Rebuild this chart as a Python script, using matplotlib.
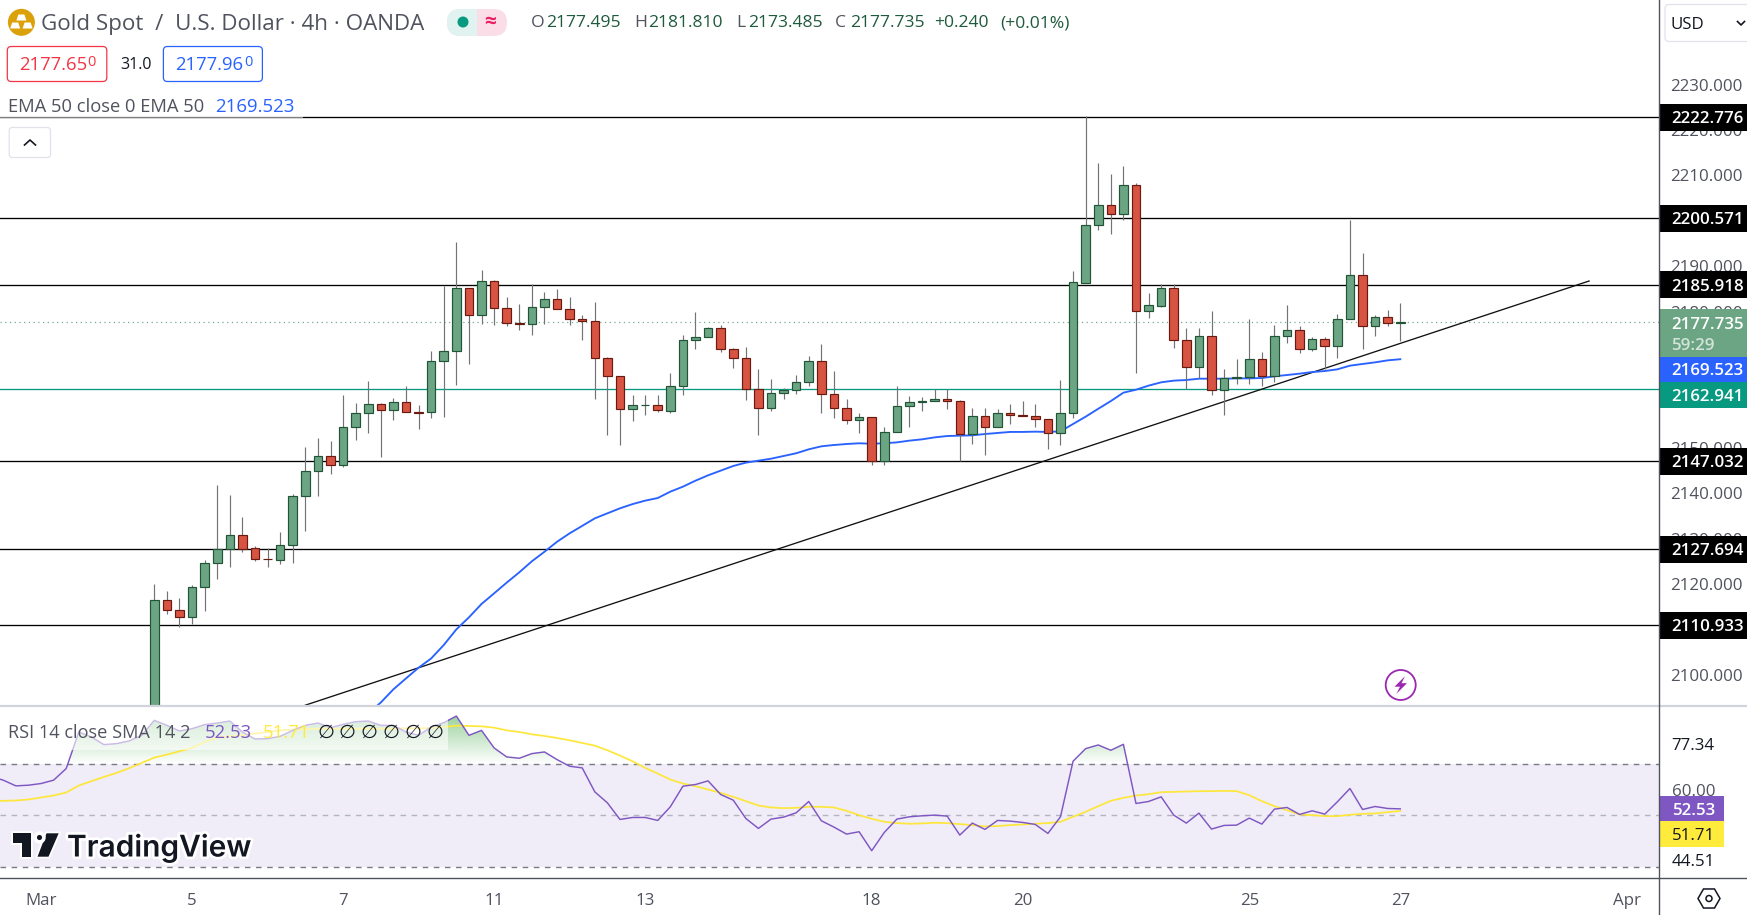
import numpy as np
import matplotlib
matplotlib.use('Agg')
import matplotlib.pyplot as plt
import matplotlib.patheffects as pe
from matplotlib.patches import Rectangle, FancyBboxPatch, Circle, Polygon, RegularPolygon
from matplotlib.path import Path

plt.rcParams['font.family'] = ['Open Sans', 'DejaVu Sans']

W, H = 1747, 915

# 4h candles
opens = [2090.0, 2116.4, 2114.2, 2112.65, 2119.26, 2124.55, 2127.63, 2130.7, 2127.85, 2125.43,
         2125.2, 2128.5, 2139.3, 2144.8, 2148.1, 2146.14, 2154.5, 2157.6, 2159.6, 2158.26,
         2160.0, 2157.8, 2157.8, 2169.05, 2171.26, 2185.14, 2179.2, 2186.7, 2180.7, 2177.4,
         2177.2, 2180.95, 2182.7, 2180.5, 2178.3, 2177.87, 2169.7, 2165.75, 2158.5, 2159.36,
         2159.36, 2158.2, 2163.55, 2173.7, 2174.34, 2176.3, 2171.7, 2169.7, 2162.9, 2158.7,
         2162.0, 2162.67, 2164.4, 2169.05, 2161.8, 2158.7, 2156.06, 2156.7, 2147.17, 2153.4,
         2159.14, 2160.0, 2160.24, 2160.68, 2160.24, 2152.97, 2156.94, 2154.5, 2157.6, 2157.16,
         2156.94, 2156.28, 2153.2, 2157.6, 2186.4, 2199.0, 2203.4, 2201.6, 2207.83, 2180.07,
         2181.3, 2185.14, 2173.7, 2167.9, 2174.56, 2162.66, 2165.3, 2165.5, 2169.5, 2165.75,
         2174.56, 2175.9, 2171.7, 2173.9, 2172.36, 2178.3, 2188.0, 2176.76, 2178.75, 2177.495]
closes = [2116.4, 2114.2, 2112.65, 2119.26, 2124.55, 2127.63, 2130.7, 2127.63, 2125.43, 2125.4,
          2128.5, 2139.3, 2144.8, 2148.1, 2146.14, 2154.5, 2157.6, 2159.6, 2158.26, 2160.0,
          2157.8, 2157.75, 2169.05, 2171.26, 2185.14, 2179.2, 2186.7, 2180.7, 2177.4, 2177.2,
          2180.95, 2182.7, 2180.5, 2178.3, 2177.87, 2169.7, 2165.75, 2158.5, 2159.36, 2159.4,
          2158.26, 2163.55, 2173.7, 2174.34, 2176.3, 2171.7, 2169.7, 2162.9, 2158.7, 2162.0,
          2162.67, 2164.4, 2169.05, 2161.8, 2158.7, 2156.06, 2156.7, 2147.17, 2153.4, 2159.14,
          2160.0, 2160.24, 2160.68, 2160.24, 2152.97, 2156.94, 2154.5, 2157.6, 2157.16, 2157.0,
          2156.28, 2153.2, 2157.6, 2186.46, 2199.0, 2203.4, 2201.6, 2207.83, 2180.07, 2181.4,
          2185.14, 2173.7, 2167.9, 2174.56, 2162.66, 2165.3, 2165.5, 2169.5, 2165.75, 2174.56,
          2175.9, 2171.7, 2173.9, 2172.36, 2178.3, 2188.0, 2176.76, 2178.75, 2177.43, 2177.735]
highs = [2120.0, 2118.45, 2116.9, 2119.8, 2125.3, 2141.8, 2139.6, 2134.76, 2128.4, 2127.85,
         2131.45, 2139.75, 2150.2, 2152.16, 2151.5, 2161.6, 2159.9, 2164.7, 2159.9, 2161.0,
         2163.6, 2159.4, 2171.3, 2185.65, 2195.35, 2185.14, 2189.2, 2187.0, 2183.2, 2181.7,
         2186.0, 2184.3, 2185.0, 2183.2, 2179.26, 2182.1, 2170.1, 2165.75, 2161.6, 2161.6,
         2161.6, 2166.5, 2174.86, 2179.9, 2176.6, 2177.06, 2172.0, 2172.2, 2167.37, 2165.16,
         2163.2, 2166.0, 2170.2, 2172.87, 2166.9, 2160.76, 2157.67, 2156.7, 2154.6, 2163.6,
         2161.4, 2161.2, 2162.9, 2162.9, 2160.46, 2158.77, 2158.77, 2158.55, 2159.65, 2160.3,
         2159.65, 2156.28, 2164.94, 2188.96, 2223.1, 2212.75, 2210.3, 2212.1, 2208.27, 2184.1,
         2186.1, 2186.1, 2176.3, 2176.3, 2180.14, 2167.36, 2169.57, 2178.4, 2171.1, 2177.06,
         2181.46, 2176.84, 2174.34, 2174.34, 2179.5, 2200.2, 2192.9, 2179.26, 2180.36, 2181.81]
lows = [2088.0, 2113.46, 2110.6, 2111.18, 2114.05, 2121.1, 2123.8, 2127.1, 2125.06, 2123.8,
        2124.5, 2124.7, 2131.67, 2139.4, 2144.2, 2145.85, 2151.7, 2153.3, 2148.0, 2156.1,
        2157.8, 2154.15, 2156.6, 2156.86, 2163.84, 2168.47, 2177.3, 2177.06, 2176.9, 2176.0,
        2174.86, 2177.3, 2180.5, 2177.06, 2173.75, 2160.76, 2152.8, 2150.6, 2155.9, 2157.2,
        2157.9, 2157.67, 2161.6, 2171.77, 2174.34, 2171.1, 2167.6, 2160.5, 2152.8, 2158.1,
        2160.76, 2161.86, 2163.6, 2157.67, 2156.6, 2155.25, 2153.27, 2146.2, 2146.2, 2153.4,
        2154.6, 2158.1, 2160.24, 2158.55, 2147.0, 2150.84, 2148.4, 2154.5, 2155.25, 2157.0,
        2154.6, 2149.74, 2150.6, 2156.6, 2186.4, 2198.0, 2197.1, 2200.2, 2166.5, 2178.6,
        2181.0, 2172.0, 2162.9, 2165.3, 2161.64, 2157.2, 2164.06, 2164.06, 2163.55, 2164.5,
        2173.1, 2170.9, 2171.33, 2167.44, 2169.8, 2178.3, 2171.77, 2174.63, 2176.84, 2173.485]

# EMA 50, starts just under the pane
ema_first_bar = 17
ema = [2091.5, 2093.9, 2096.8, 2099.2, 2101.56, 2103.6, 2106.56, 2110.0, 2112.65, 2115.6,
       2117.94, 2120.3, 2122.57, 2125.0, 2127.1, 2129.3, 2131.16, 2132.8, 2134.46, 2135.57,
       2136.67, 2137.6, 2138.36, 2138.94, 2140.34, 2141.44, 2142.76, 2143.94, 2144.97, 2146.0,
       2146.73, 2147.17, 2147.6, 2148.2, 2148.8, 2149.67, 2150.33, 2150.62, 2150.84, 2151.0,
       2150.9, 2151.0, 2151.2, 2151.58, 2151.87, 2152.3, 2152.6, 2152.68, 2152.75, 2153.04,
       2153.27, 2153.5, 2153.5, 2153.56, 2153.5, 2153.63, 2155.25, 2156.86, 2158.6, 2160.3,
       2162.15, 2162.8, 2163.7, 2164.43, 2164.8, 2164.94, 2165.23, 2165.23, 2165.23, 2165.3,
       2165.3, 2165.38, 2165.75, 2166.04, 2166.34, 2166.7, 2166.92, 2167.29, 2168.1, 2168.47,
       2168.83, 2169.27, 2169.523]

# horizontal levels drawn on the chart
black_levels = [2222.776, 2200.571, 2185.918, 2147.032, 2127.694, 2110.933]
green_level = 2162.941
last_price = 2177.735
ema_last = 2169.523
trend_bars = [12, 114]
trend_prices = [2093.3, 2186.75]

# 2110, 2170 and 2200 sit fully behind the value labels
price_ticks = [2100, 2120, 2130, 2140, 2150, 2160, 2180, 2190, 2210, 2220, 2230]

# RSI pane, first value is bar -13 (candles there sit below the price pane)
rsi_first_bar = -13
rsi = [65.0, 63.6, 61.4, 61.66, 62.3, 63.6, 68.07, 82.17, 80.25, 77.3,
       77.68, 78.71, 80.89, 86.66, 84.73, 82.56, 83.45, 85.0, 85.63, 86.4,
       82.17, 79.48, 79.6, 80.5, 82.8, 84.73, 85.63, 83.84, 85.12, 86.15,
       86.4, 84.73, 84.73, 82.17, 80.89, 84.09, 85.76, 88.32, 80.89, 82.8,
       76.02, 72.56, 72.04, 73.84, 74.48, 71.53, 68.97, 68.33, 59.09, 54.86,
       48.45, 49.22, 49.22, 48.07, 53.33, 61.27, 61.92, 63.33, 58.07, 55.89,
       48.84, 44.99, 48.58, 49.35, 51.02, 55.38, 47.94, 45.51, 42.81, 43.71,
       36.4, 43.45, 48.58, 49.48, 49.86, 50.12, 49.74, 42.43, 47.04, 44.61,
       48.07, 47.81, 47.3, 46.53, 43.07, 49.48, 70.89, 75.76, 77.17, 75.12,
       77.43, 54.61, 55.38, 57.17, 50.12, 47.04, 50.89, 44.74, 46.15, 46.27,
       48.97, 46.66, 52.43, 53.07, 50.38, 51.79, 50.51, 55.25, 60.38, 52.3,
       53.45, 52.68, 52.53]
rsi_sma = [55.6, 55.63, 55.76, 56.15, 56.92, 57.68, 58.84, 61.53, 63.2, 64.86,
           66.4, 68.2, 70.25, 72.3, 73.45, 74.74, 76.02, 78.32, 79.99, 80.5,
           81.02, 81.53, 82.17, 82.8, 83.07, 83.32, 83.45, 83.45, 83.45, 83.45,
           83.45, 83.45, 83.45, 83.58, 83.58, 83.71, 84.09, 84.61, 84.48, 84.35,
           83.84, 82.8, 82.17, 81.27, 80.63, 79.86, 78.97, 77.94, 76.91, 75.12,
           73.07, 70.89, 68.33, 66.15, 63.84, 62.3, 61.27, 59.99, 58.71, 57.17,
           55.51, 53.84, 53.07, 52.81, 52.94, 53.33, 53.33, 53.07, 51.79, 50.12,
           48.71, 47.56, 47.04, 46.79, 46.92, 47.17, 47.04, 46.66, 46.27, 45.76,
           45.89, 46.27, 46.53, 46.79, 47.04, 47.56, 49.48, 51.4, 53.58, 55.63,
           56.79, 57.68, 58.2, 58.97, 59.09, 59.22, 59.35, 59.35, 59.48, 59.35,
           57.81, 55.51, 53.58, 52.04, 50.38, 50.12, 49.74, 49.74, 50.25, 50.63,
           50.76, 51.27, 51.71]

date_ticks = [-9, 3, 15, 27, 39, 57, 69, 87, 99, 117]
date_labels = ['Mar', '5', '7', '11', '13', '18', '20', '25', '27', 'Apr']

# colours
GREEN_BODY = '#6BA583'
GREEN_EDGE = '#225437'
RED_BODY = '#D75442'
RED_EDGE = '#6B1A12'
WICK = '#737375'
BLUE = '#2962FF'
TEAL = '#089981'
PURPLE = '#7E57C2'
YELLOW = '#FFEB3B'
TXT = '#50535E'

fig = plt.figure(figsize=(W / 100, H / 100), dpi=100, facecolor='white')
ax = fig.add_axes([0, (H - 705) / H, 1659.3 / W, 705 / H])
ax2 = fig.add_axes([0, (H - 877.3) / H, 1659.3 / W, (877.3 - 706.5) / H])
# overlay in pixels for the tv chrome (labels, buttons, logo)
ui = fig.add_axes([0, 0, 1, 1], zorder=10)
ui.set_xlim(0, W)
ui.set_ylim(H, 0)
ui.axis('off')
ui.patch.set_alpha(0)

xlim = (-12.26, 119.58)

# ---- price pane
bars = np.arange(len(opens))
opens_a, closes_a = np.array(opens), np.array(closes)
up = closes_a >= opens_a
ax.vlines(bars, lows, highs, color=WICK, lw=0.85, zorder=3)
ax.bar(bars, closes_a - opens_a, bottom=opens_a, width=0.68,
       color=[GREEN_BODY if u else RED_BODY for u in up],
       edgecolor=[GREEN_EDGE if u else RED_EDGE for u in up], linewidth=0.85, zorder=4)
for lev in black_levels:
    ax.axhline(lev, color='black', lw=0.95, zorder=1)
ax.axhline(green_level, color=TEAL, lw=0.95, zorder=1)
ax.axhline(last_price, color=GREEN_BODY, lw=0.85, ls=(0, (1, 3)), zorder=1)
ax.plot(trend_bars, trend_prices, color='#111111', lw=0.95, zorder=2)
ax.plot(np.arange(len(ema)) + ema_first_bar, ema, color=BLUE, lw=1.35, zorder=2)
ax.set_xlim(*xlim)
ax.set_ylim(2093.34, 2248.66)
ax.yaxis.tick_right()
ax.set_yticks(price_ticks)
ax.set_yticklabels(['%.3f' % t for t in price_ticks])
ax.tick_params(axis='y', length=0, pad=8.0, labelsize=12.2, labelcolor=TXT)
ax.set_xticks([])
for s in ax.spines.values():
    s.set_visible(False)

# ---- rsi pane
rsi_bars = np.arange(len(rsi)) + rsi_first_bar
ax2.axhspan(30, 70, color='#F0ECF8', lw=0, zorder=0)
fill = ax2.fill_between(rsi_bars, 70, rsi, where=np.array(rsi) >= 70, interpolate=True, color='none')
grad = np.zeros((256, 1, 4))
grad[:, 0, 0:3] = matplotlib.colors.to_rgb('#4CAF50')
grad[:, 0, 3] = np.linspace(0.6, 0, 256)
im = ax2.imshow(grad, extent=(xlim[0], xlim[1], 70, 90), aspect='auto', origin='upper', zorder=1)
paths = fill.get_paths()
im.set_clip_path(Path.make_compound_path(*paths), transform=ax2.transData)
ax2.axhline(70, color='#787B86', lw=1.0, ls=(0, (4, 4)), zorder=1)
ax2.axhline(50, color='#B2B5BE', lw=1.0, ls=(0, (4, 4)), zorder=1)
ax2.axhline(30, color='#787B86', lw=1.0, ls=(0, (4, 4)), zorder=1)
ax2.plot(rsi_bars, rsi_sma, color='#FDE73A', lw=1.25, zorder=2)
ax2.plot(rsi_bars, rsi, color=PURPLE, lw=1.05, zorder=3)
ax2.set_xlim(*xlim)
ax2.set_ylim(26.15, 92.0)
ax2.set_yticks([])
ax2.set_xticks(date_ticks)
ax2.set_xticklabels(date_labels)
ax2.tick_params(axis='x', length=0, pad=11.5, labelsize=12.2, labelcolor=TXT)
for s in ax2.spines.values():
    s.set_visible(False)


def price_y(p):
    return ui.transData.inverted().transform(ax.transData.transform((0, p)))[1]


def txt(x, y, s, color=TXT, size=12.2, ha='left', **kw):
    # open sans sits a bit high with va=center
    return ui.text(x, y + 2.3, s, color=color, fontsize=size, ha=ha, va='center', **kw)


def rbox(x, y, w, h, r, fc, ec='none', lw=1.0):
    p = FancyBboxPatch((x, y), w, h, boxstyle='round,pad=0,rounding_size=%g' % r, fc=fc, ec=ec, lw=lw)
    ui.add_patch(p)
    return p


# pane separators and axis lines
ui.plot([0, W], [705.5, 705.5], color='#D1D4DC', lw=1.6)
ui.plot([0, W], [877.5, 877.5], color='#50535E', lw=1.0)
ui.plot([1659.3, 1659.3], [0, 915], color='#50535E', lw=1.0)

# translucent legend backgrounds
ui.add_patch(Rectangle((0, 92), 303, 26, fc='white', ec='none', alpha=0.5))
ui.add_patch(Rectangle((0, 707), 448, 42.5, fc='white', ec='none', alpha=0.6))

# header
ui.add_patch(Circle((21.4, 22.3), 13.5, fc='#DBA10A', ec='none'))
for cx, cy in [(21.4, 17.5), (15.2, 25.5), (27.6, 25.5)]:
    ui.add_patch(Polygon([(cx - 3, cy - 3), (cx + 3, cy - 3), (cx + 5, cy + 3), (cx - 5, cy + 3)], fc='white', ec='none'))
txt(41, 22, 'Gold Spot  /  U.S. Dollar · 4h · OANDA', color='#50535E', size=16.1)

pill_bg = rbox(447, 9, 60, 27, 13.5, '#FBDDE8')
pill = rbox(447, 9, 60, 27, 13.5, '#E0F3F0')
pill.set_clip_path(Rectangle((447, 9), 30, 27, transform=ui.transData))
ui.add_patch(Circle((463, 22), 5.5, fc=TEAL, ec='none'))
txt(490, 20, '≈', color='#E91E63', size=15, ha='center', fontweight='bold')

OHLC_GREEN = '#1E5A3C'
for lx, vx, letter, val in [(530.7, 545.7, 'O', '2177.495'), (634, 648.6, 'H', '2181.810'),
                            (736, 748.6, 'L', '2173.485'), (835, 850, 'C', '2177.735')]:
    txt(lx, 21, letter, color=TXT, size=12.6)
    txt(vx, 21, val, color=OHLC_GREEN, size=12.6)
txt(934, 21, '+0.240', color=OHLC_GREEN, size=12.6)
txt(1000.4, 21, '(+0.01%)', color=OHLC_GREEN, size=12.6)

# bid / ask
rbox(7.3, 46.5, 99.5, 35, 4, 'white', ec='#F23645', lw=0.9)
txt(18.8, 63, '2177.65', color='#F23645', size=13.3)
txt(87, 60.5, '0', color='#F23645', size=10.5)
txt(120, 63, '31.0', color='#131722', size=11.5)
rbox(163.4, 46.5, 99, 35, 4, 'white', ec=BLUE, lw=0.9)
txt(175, 63, '2177.96', color=BLUE, size=13.3)
txt(244, 60.5, '0', color=BLUE, size=10.5)

txt(8.4, 105, 'EMA 50 close 0 EMA 50', color=TXT, size=13.2)
txt(215, 105, '2169.523', color=BLUE, size=13.4)

# collapse button
rbox(9.2, 127.5, 41.3, 30, 3, 'white', ec='#E0E3EB', lw=0.9)
ui.plot([24.5, 30, 35.5], [145, 140, 145], color='#131722', lw=1.2)

# usd button
rbox(1665, 4.5, 100, 37, 4, 'white', ec='#E0E3EB', lw=0.9)
txt(1671, 22.5, 'USD', color='#131722', size=12.2)
ui.plot([1737.5, 1741, 1744.5], [21.5, 25, 21.5], color='#131722', lw=1.2)

# price scale labels
for lev in black_levels:
    y = price_y(lev)
    ui.add_patch(Rectangle((1659.3, y - 13.5), 88, 27, fc='black', ec='none'))
    txt(1671, y - 0.3, '%.3f' % lev, color='white', size=12.2, fontweight='semibold')
ui.add_patch(Rectangle((1659.3, 309), 88, 48, fc=GREEN_BODY, ec='none'))
txt(1671, 322.5, '%.3f' % last_price, color='white', size=12.2, fontweight='semibold')
txt(1671, 343.5, '59:29', color='#D3E4DA', size=12.2, fontweight='semibold')
ui.add_patch(Rectangle((1659.3, 357), 88, 25, fc=BLUE, ec='none'))
txt(1671, 369, '%.3f' % ema_last, color='white', size=12.2, fontweight='semibold')
ui.add_patch(Rectangle((1659.3, 382), 88, 26, fc=TEAL, ec='none'))
txt(1671, 395, '%.3f' % green_level, color='white', size=12.2, fontweight='semibold')

# lightning icon
ui.add_patch(Circle((1400.7, 685), 15, fc='none', ec='#9C27B0', lw=1.3))
ui.add_patch(Polygon([(1405, 676.2), (1394.5, 686.7), (1400, 686.7), (1396.5, 693.7), (1407, 683.2), (1401.5, 683.2)],
                     fc='#9C27B0', ec='none'))

# rsi legend
txt(8, 730.5, 'RSI 14 close SMA 14 2', color=TXT, size=13.1)
txt(205, 730.5, '52.53', color=PURPLE, size=13.3)
txt(263, 730.5, '51.71', color=YELLOW, size=13.3)
for x in [326, 347.5, 369.5, 391, 413, 435]:
    txt(x, 730.5, '∅', color='#131722', size=14, ha='center', family='DejaVu Sans')

# rsi scale labels
ui.add_patch(Rectangle((1660, 730), 87, 28, fc='white', ec='none'))
ui.add_patch(Rectangle((1660, 847), 87, 27, fc='white', ec='none'))
txt(1671.7, 744, '77.34', color='#131722', size=12.2)
txt(1671.7, 789.5, '60.00', color=TXT, size=12.2)
ui.add_patch(Rectangle((1659.3, 796), 64.7, 25, fc=PURPLE, ec='none'))
txt(1671.7, 808.5, '52.53', color='white', size=12.2, fontweight='semibold')
ui.add_patch(Rectangle((1659.3, 821), 64.7, 26, fc=YELLOW, ec='none'))
txt(1671.7, 834, '51.71', color='#131722', size=12.2)
txt(1671.7, 860, '44.51', color='#131722', size=12.2)

# settings hexagon
ui.add_patch(RegularPolygon((1709, 898.5), 6, radius=11, orientation=np.pi / 2, fc='none', ec='#131722', lw=1.1))
ui.add_patch(Circle((1709, 898.5), 3, fc='none', ec='#131722', lw=1.1))

# tradingview logo
halo = [pe.withStroke(linewidth=4, foreground='white')]
logo = '#131722'
for pts in [[(12.7, 833.3), (31.3, 833.3), (31.3, 856.7), (22, 856.7), (22, 842.5), (12.7, 842.5)],
            [(46.5, 833.3), (58.7, 833.3), (48.5, 856.7), (37.5, 856.7)]]:
    ui.add_patch(Polygon(pts, fc=logo, ec='white', lw=2.6, joinstyle='miter'))
    ui.add_patch(Polygon(pts, fc=logo, ec='none'))
c = Circle((39.5, 837.5), 4.4, fc=logo, ec='white', lw=2.6)
ui.add_patch(c)
ui.text(67, 848, 'TradingView', color=logo, fontsize=21.5, family='Inter', fontweight='semibold',
        va='center', ha='left', path_effects=halo)

fig.savefig('out.png', dpi=100)
